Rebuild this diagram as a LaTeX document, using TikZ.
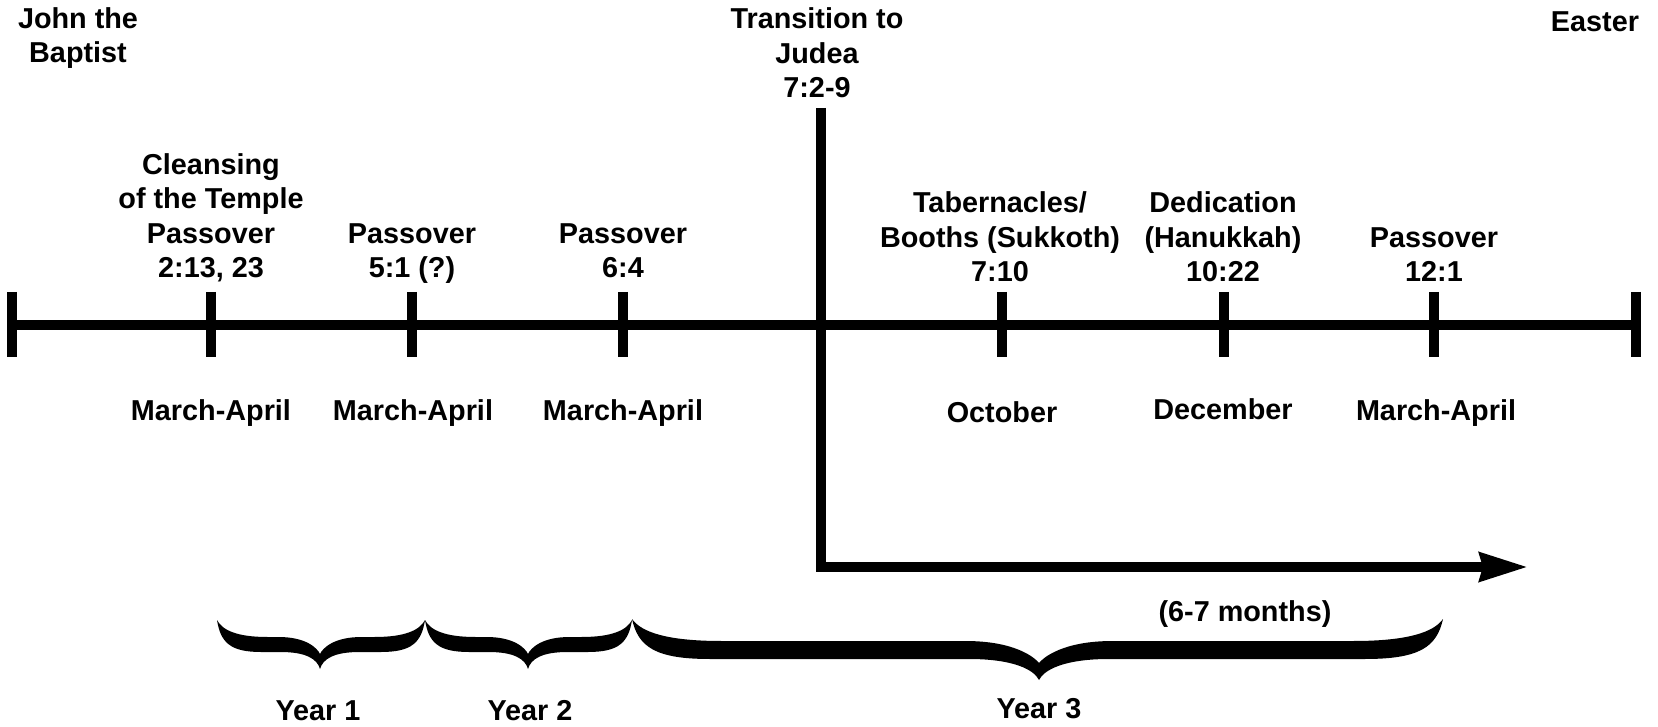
\documentclass[tikz,border=0pt]{standalone}
\usepackage{fontspec}
\setmainfont{Liberation Sans}
\usetikzlibrary{arrows.meta}

\tikzset{
  lbl/.style={font=\bfseries\fontsize{28.8}{34.5}\selectfont, align=center, anchor=base, inner sep=0pt},
  axis/.style={line width=10pt},
  tickmark/.style={line width=10pt},
}

% Filled curly brace opening downward.
% #1 left x, #2 right x, #3 tip x, #4 top y, #5 band top, #6 band bottom,
% #7 tip y, #8 inner cusp y, #9 horizontal run of the end curves
\newcommand\yearbrace[9]{%
  \pgfmathsetmacro\rA{#9}%
  \pgfmathsetmacro\rB{0.9*#9}%
  \fill (#1,#4)
    .. controls ({#1+0.08*\rA},{#4+0.7*(#6-#4)}) and ({#1+0.3*\rA},#6) .. ({#1+\rA},#6)
    -- ({#3-\rB},#6)
    .. controls ({#3-0.35*\rB},#6) and ({#3-0.07*\rB},{#7-10}) .. (#3,#7)
    .. controls ({#3+0.07*\rB},{#7-10}) and ({#3+0.35*\rB},#6) .. ({#3+\rB},#6)
    -- ({#2-\rA},#6)
    .. controls ({#2-0.3*\rA},#6) and ({#2-0.08*\rA},{#4+0.7*(#6-#4)}) .. (#2,#4)
    .. controls ({#2-0.12*\rA},{#4+0.6*(#5-#4)}) and ({#2-0.45*\rA},#5) .. ({#2-1.15*\rA},#5)
    -- ({#3+1.05*\rB},#5)
    .. controls ({#3+0.35*\rB},#5) and ({#3+0.07*\rB},{#8-6}) .. (#3,#8)
    .. controls ({#3-0.07*\rB},{#8-6}) and ({#3-0.35*\rB},#5) .. ({#3-1.05*\rB},#5)
    -- ({#1+1.15*\rA},#5)
    .. controls ({#1+0.45*\rA},#5) and ({#1+0.12*\rA},{#4+0.6*(#5-#4)}) .. (#1,#4)
    -- cycle;}

\begin{document}
\begin{tikzpicture}[x=1pt,y=-1pt]
\useasboundingbox (0,0) rectangle (1658,727);

% main time axis
\coordinate (axisL) at (7,325);
\coordinate (axisR) at (1641,325);
\draw[axis] (axisL) -- (axisR);

% tick marks
\foreach \n/\x in {t0/12, t1/211, t2/412, t3/623, t4/1002, t5/1224, t6/1434, t7/1636} {
  \coordinate (\n top) at (\x,292);
  \coordinate (\n bot) at (\x,357);
  \draw[tickmark] (\n top) -- (\n bot);
}

% move to Judea and the following months
\coordinate (jtop) at (821,108);
\coordinate (jcorner) at (821,567);
\coordinate (jend) at (1528,567);
\draw[axis, -{Stealth[length=48pt 0 0, width=28pt 0 0, inset=3pt]}] (jtop) -- (jcorner) -- (jend);

% labels above the axis
\node[lbl] (john) at (78,63) {John the\\Baptist};
\node[lbl] (easter) at (1595,32) {Easter};
\node[lbl] (judea) at (817,98) {Transition to\\Judea\\7:2-9};
\node[lbl] (cleansing) at (211,278) {Cleansing\\of the Temple\\Passover\\2:13, 23};
\node[lbl] (pass2) at (412,278) {Passover\\5:1 (?)};
\node[lbl] (pass3) at (623,278) {Passover\\6:4};
\node[lbl] (booths) at (1000,282) {Tabernacles/\\Booths (Sukkoth)\\7:10};
\node[lbl] (dedication) at (1223,282) {Dedication\\(Hanukkah)\\10:22};
\node[lbl] (pass4) at (1434,282) {Passover\\12:1};

% months below the axis
\node[lbl] (m1) at (211,420) {March-April};
\node[lbl] (m2) at (413,420) {March-April};
\node[lbl] (m3) at (623,420) {March-April};
\node[lbl] (m4) at (1002,422) {October};
\node[lbl] (m5) at (1223,419) {December};
\node[lbl] (m6) at (1436,420) {March-April};

\node[lbl] (months) at (1245,621) {(6-7 months)};

% year braces
\yearbrace{217}{425}{320}{620}{637}{652}{669}{654}{44}
\yearbrace{425}{632}{528}{620}{637}{652}{669}{654}{44}
\yearbrace{632}{1443}{1039}{619}{641}{659}{680}{663}{78}

\node[lbl] (y1) at (318,720) {Year 1};
\node[lbl] (y2) at (530,720) {Year 2};
\node[lbl] (y3) at (1039,718) {Year 3};
\end{tikzpicture}
\end{document}
